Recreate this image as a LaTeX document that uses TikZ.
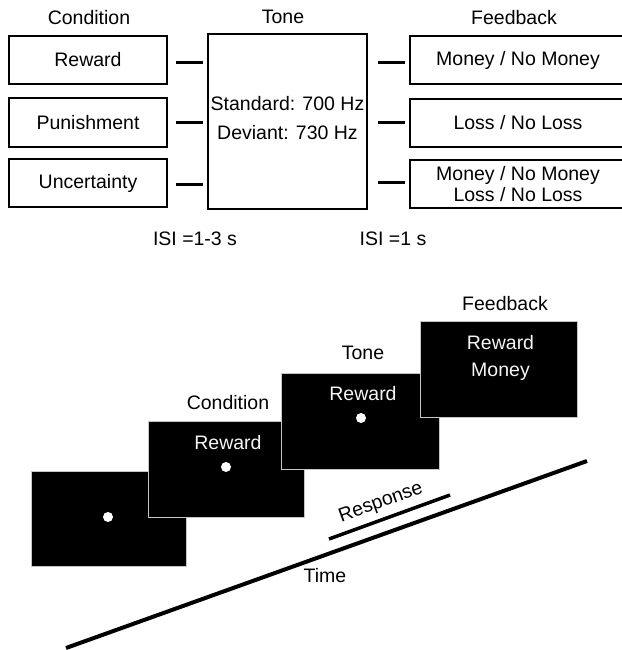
\documentclass[tikz,border=0pt]{standalone}
\usepackage{fontspec}
\setmainfont{Liberation Sans}
\begin{document}
\begin{tikzpicture}[x=1pt,y=-1pt,
  every node/.style={font=\fontsize{19.5}{21}\selectfont, inner sep=0pt},
  box/.style={draw, line width=2pt, minimum width=158pt, minimum height=48pt, align=center},
  link/.style={line width=3pt},
  screen/.style={fill=black, draw=gray!45, line width=1pt, minimum width=156pt, minimum height=96pt},
  scrtext/.style={text=gray!8, align=center},
  fixdot/.style={circle, fill=white, minimum size=10pt},
  timeline/.style={line width=4pt},
  resp/.style={line width=3.5pt}]
\useasboundingbox (0,0) rectangle (621,650);

% ---------- top panel ----------
\node (hc) at (89,18) {Condition};
\node (ht) at (283,17) {Tone};
\node (hf) at (514,18) {Feedback};

\node[box] (c1) at (88,60) {Reward};
\node[box, minimum height=49pt] (c2) at (88,122.5) {Punishment};
\node[box] (c3) at (88,183) {Uncertainty};

\node[draw, line width=2pt, minimum width=159pt, minimum height=175pt] (tone) at (287.5,121.5) {};
\node[align=center, font=\fontsize{19.5}{29}\selectfont] (tonetext) at (287.5,118.5) {Standard: 700 Hz\\Deviant: 730 Hz};

\node[box, minimum width=216pt] (f1) at (518,60) {Money / No Money};
\node[box, minimum width=216pt] (f2) at (518,123) {Loss / No Loss};
\node[box, minimum width=216pt] (f3) at (518,184) {Money / No Money\\Loss / No Loss};

\draw[link, shorten <=8pt, shorten >=4pt] ([yshift=-3pt]c1.east) -- ([yshift=-3pt]c1.east -| tone.west);
\draw[link, shorten <=8pt, shorten >=4pt] (c2.east) -- (c2.east -| tone.west);
\draw[link, shorten <=8pt, shorten >=4pt] ([yshift=-1pt]c3.east) -- ([yshift=-1pt]c3.east -| tone.west);

\draw[link, shorten <=10pt, shorten >=4pt] ([yshift=-3pt]f1.west -| tone.east) -- ([yshift=-3pt]f1.west);
\draw[link, shorten <=10pt, shorten >=4pt] (f2.west -| tone.east) -- (f2.west);
\draw[link, shorten <=10pt, shorten >=4pt] ([yshift=2pt]f3.west -| tone.east) -- ([yshift=2pt]f3.west);

\node (isi1) at (195,239) {ISI =1-3 s};
\node (isi2) at (393,239) {ISI =1 s};

% ---------- bottom panel ----------
\node[screen, minimum width=155pt, minimum height=95pt] (s1) at (108.5,518.5) {};
\node[fixdot] (d1) at (108,517) {};

\node[screen] (s2) at (226,469) {};
\node[scrtext] (s2t) at (228,443) {Reward};
\node[fixdot] (d2) at (226,467) {};
\node (l2) at (228,403) {Condition};

\node[screen, minimum width=158pt] (s3) at (360,421) {};
\node[scrtext] (s3t) at (363,394) {Reward};
\node[fixdot] (d3) at (361,418) {};
\node (l3) at (363,353) {Tone};

\node[screen, minimum width=157pt] (s4) at (498.5,369) {};
\node[scrtext, font=\fontsize{19.5}{27}\selectfont] (s4t) at (500.5,357.5) {Reward\\Money};
\node (l4) at (505,304) {Feedback};

\coordinate (t0) at (66,648);
\coordinate (t1) at (587,461);
\draw[timeline] (t0) -- (t1);
\node (time) at (325,576) {Time};

\coordinate (r0) at (329,539);
\coordinate (r1) at (450,495);
\draw[resp] (r0) -- (r1);
\node[rotate=20] (resptext) at (381,503) {Response};
\end{tikzpicture}
\end{document}
